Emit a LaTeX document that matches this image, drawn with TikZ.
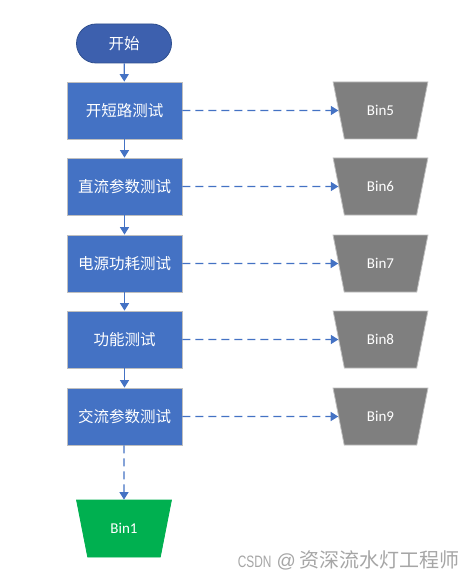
\documentclass[tikz,border=0pt]{standalone}
\usepackage{fontspec}
\setmainfont{Carlito}
\newfontfamily\cjk{Noto Sans CJK SC}
\newfontfamily\wmlatin[FakeStretch=0.72]{Liberation Sans}
\newfontfamily\wmat{Liberation Sans}
\usetikzlibrary{arrows.meta,shapes.geometric,shapes.misc}
\definecolor{boxblue}{HTML}{4472C4}
\definecolor{startblue}{HTML}{3D60AE}
\definecolor{startedge}{HTML}{2F4F8F}
\definecolor{bingray}{HTML}{7F7F7F}
\definecolor{bingreen}{HTML}{00B050}
\definecolor{edgegray}{HTML}{BFBFBF}
\definecolor{wmgray}{HTML}{A6A6A6}
\tikzset{
  stepbox/.style={rectangle, draw=edgegray, line width=0.8pt, fill=boxblue, minimum width=115pt, minimum height=57pt, inner sep=0pt, text=white, font=\cjk\fontsize{15.5}{17}\selectfont},
  startbox/.style={rounded rectangle, draw=startedge, line width=0.8pt, fill=startblue, minimum width=95pt, minimum height=39pt, inner sep=0pt, text=white, font=\cjk\fontsize{15.5}{17}\selectfont},
  binbox/.style={trapezium, shape border rotate=180, trapezium stretches=true, trapezium left angle=68, trapezium right angle=68, minimum width=95pt, minimum height=57pt, inner sep=0pt, draw=edgegray, line width=0.8pt, fill=bingray, text=white, font=\fontsize{15}{17}\selectfont},
  flow/.style={draw=boxblue, line width=1.3pt, -{Triangle[width=9pt,length=7.5pt]}},
  dflow/.style={flow, dash pattern=on 8pt off 5pt},
}
\begin{document}
\begin{tikzpicture}[x=1pt,y=-1pt]
\useasboundingbox (0,0) rectangle (474,580);
\fill[white] (0,0) rectangle (474,580);
\node[startbox] (start) at (124,43.5) {开始};
\node[stepbox] (s1) at (124.5,110.5) {开短路测试};
\node[stepbox] (s2) at (124.5,186.5) {直流参数测试};
\node[stepbox] (s3) at (124.5,263.5) {电源功耗测试};
\node[stepbox] (s4) at (124.5,339.5) {功能测试};
\node[stepbox] (s5) at (124.5,416.5) {交流参数测试};
\node[binbox] (b5) at (380.5,110.5) {Bin5};
\node[binbox] (b6) at (380.5,186.5) {Bin6};
\node[binbox] (b7) at (380.5,263.5) {Bin7};
\node[binbox] (b8) at (380.5,339.5) {Bin8};
\node[binbox] (b9) at (380.5,416.5) {Bin9};
\node[binbox, fill=bingreen, draw=bingreen] (b1) at (124,528.5) {Bin1};
\draw[flow] (start) -- (s1);
\draw[flow] (s1) -- (s2);
\draw[flow] (s2) -- (s3);
\draw[flow] (s3) -- (s4);
\draw[flow] (s4) -- (s5);
\draw[dflow] (s5.south -| b1) -- (b1.north);
\draw[dflow] (s1) -- (b5);
\draw[dflow] (s2) -- (b6);
\draw[dflow] (s3) -- (b7);
\draw[dflow] (s4) -- (b8);
\draw[dflow] (s5) -- (b9);
\node[anchor=base east, text=wmgray, inner sep=0pt] (wm) at (460,567.5) {\wmlatin\fontsize{16.5}{18}\selectfont CSDN\hspace{5pt}\wmat\fontsize{19}{20}\selectfont @\hspace{4pt}\cjk\fontsize{20}{22}\selectfont 资深流水灯工程师};
\end{tikzpicture}
\end{document}
